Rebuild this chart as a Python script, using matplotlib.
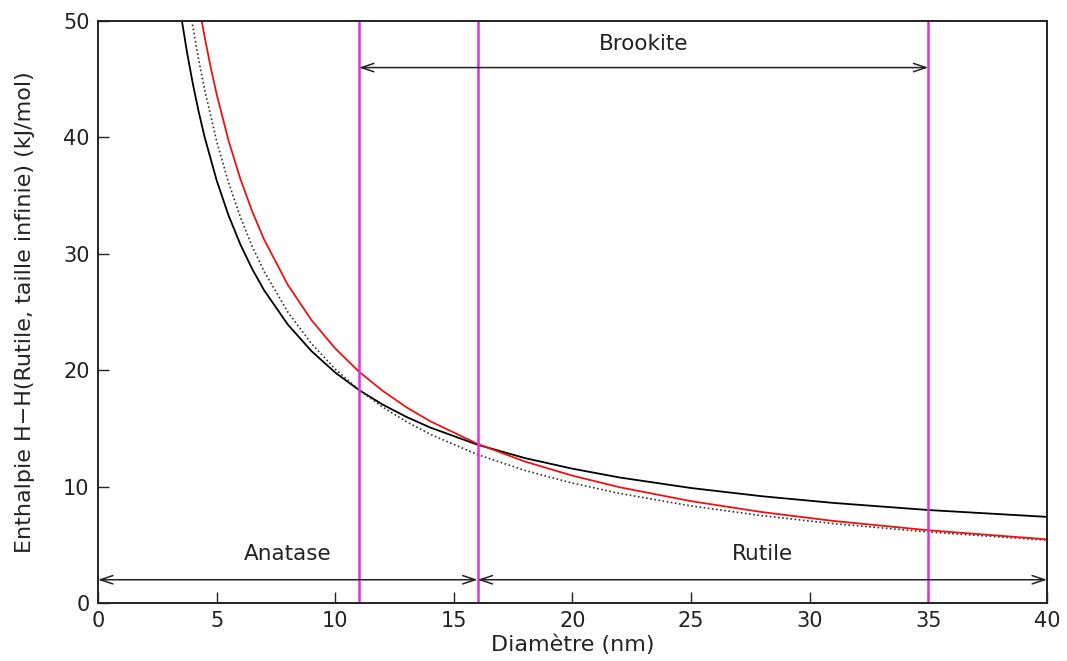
import matplotlib
matplotlib.use("Agg")
import matplotlib.pyplot as plt

# =============================
# DATA
# =============================
x_black = [3.5, 3.75, 4, 4.25, 4.5, 5, 5.5, 6, 6.5, 7, 8, 9, 10, 11, 12, 13, 14,
           16, 18, 20, 22, 25, 28, 31, 35, 40]
y_black = [50.50, 47.35, 44.60, 42.16, 40.00, 36.33, 33.32, 30.82, 28.70, 26.88,
           23.93, 21.64, 19.80, 18.30, 17.05, 15.99, 15.08, 13.60, 12.45, 11.54,
           10.78, 9.88, 9.17, 8.60, 7.99, 7.40]

x_red = [4.35, 4.5, 4.75, 5, 5.5, 6, 6.5, 7, 8, 9, 10, 11, 12, 13, 14,
         16, 18, 20, 22, 25, 28, 31, 35, 40]
y_red = [50.28, 48.60, 46.04, 43.74, 39.76, 36.45, 33.65, 31.24, 27.34, 24.30,
         21.87, 19.88, 18.23, 16.82, 15.62, 13.67, 12.15, 10.94, 9.94, 8.75,
         7.81, 7.05, 6.25, 5.47]

x_dot = [3.9, 4, 4.25, 4.5, 5, 5.5, 6, 6.5, 7, 8, 9, 10, 11, 12, 13, 14,
         16, 18, 20, 22, 25, 28, 31, 35, 40]
y_dot = [50.76, 49.50, 46.62, 44.06, 39.70, 36.14, 33.17, 30.65, 28.50, 25.00,
         22.28, 20.10, 18.32, 16.83, 15.58, 14.50, 12.75, 11.39, 10.30, 9.41,
         8.34, 7.50, 6.82, 6.10, 5.40]

limits = [11, 16, 35]

# phase ranges: (label, start, end, arrow y, text x, text y)
phases = [
    ("Anatase", 0, 16, 2, 8, 4.2),
    ("Rutile", 16, 40, 2, 28, 4.2),
    ("Brookite", 11, 35, 46, 23, 48.0),
]

# =============================
# PLOT
# =============================
plt.rcParams["font.family"] = ["DejaVu Sans"]

fig = plt.figure(figsize=(10.67, 6.61), dpi=100)
ax = fig.add_axes([0.0918, 0.0877, 0.8895, 0.8805])

ax.plot(x_black, y_black, color="black", linewidth=1.3)
ax.plot(x_dot, y_dot, color="#333333", linewidth=1.2, linestyle=(0, (1, 1.5)))
ax.plot(x_red, y_red, color="#ee1111", linewidth=1.3)

for xv in limits:
    ax.axvline(xv, color="#dd33dd", linewidth=1.8)

for name, x0, x1, ya, xt, yt in phases:
    ax.annotate("", xy=(x1, ya), xytext=(x0, ya),
                arrowprops=dict(arrowstyle="<->,head_length=0.9,head_width=0.3",
                                color="#222222", linewidth=1.1,
                                shrinkA=0, shrinkB=0))
    ax.text(xt, yt, name, ha="center", va="center", fontsize=15.5, color="#222222")

ax.set_xlim(0, 40)
ax.set_ylim(0, 50)
ax.set_xticks(range(0, 41, 5))
ax.set_yticks(range(0, 51, 10))
ax.tick_params(direction="in", length=8, width=1, labelsize=15,
               colors="#222222", pad=6)

for spine in ax.spines.values():
    spine.set_linewidth(1.4)
    spine.set_color("#222222")

ax.set_xlabel("Diamètre (nm)", fontsize=16, color="#222222", labelpad=2)
ax.set_ylabel("Enthalpie H\u2212H(Rutile, taille infinie) (kJ/mol)", fontsize=16,
              color="#222222", labelpad=20)

plt.savefig("out.png", dpi=100)
plt.close()
